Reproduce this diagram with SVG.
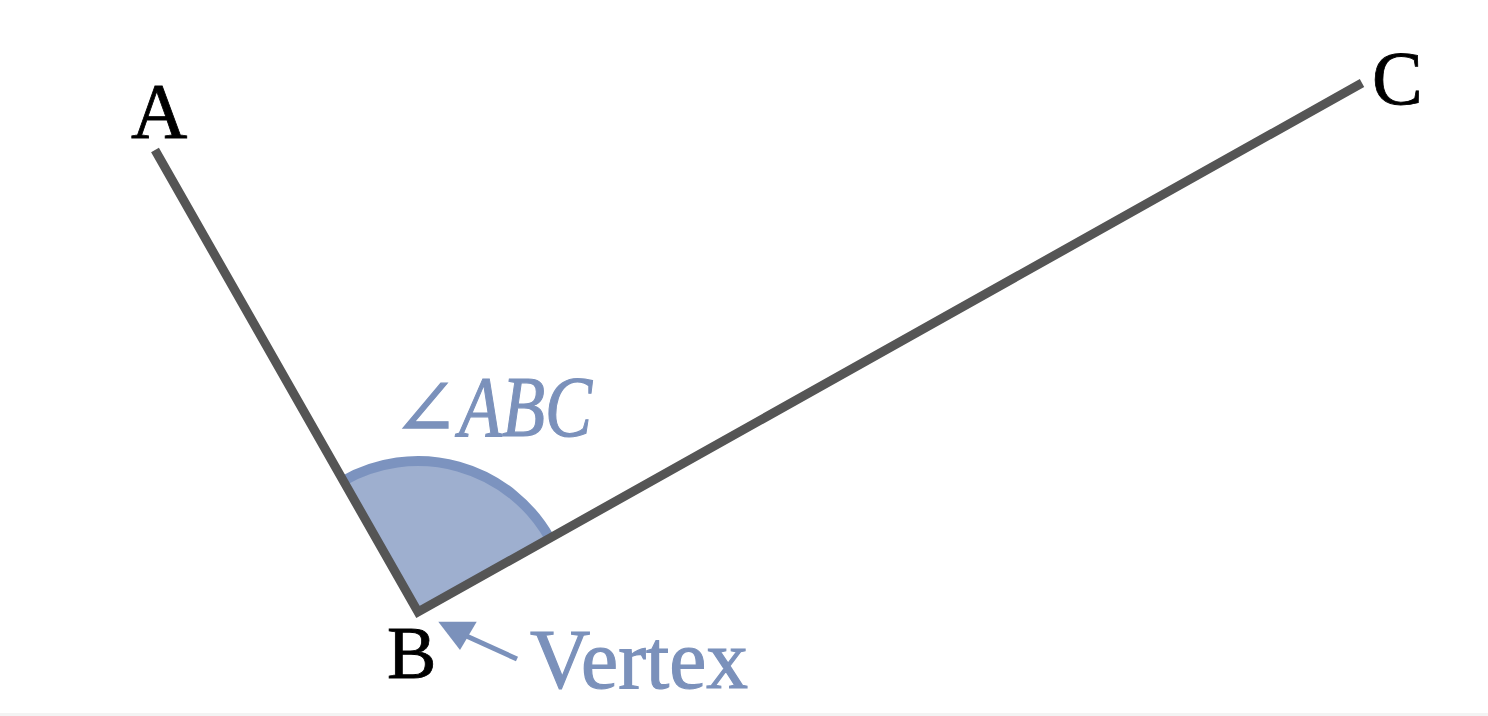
<svg xmlns="http://www.w3.org/2000/svg" width="1488" height="716" viewBox="0 0 1488 716">
<defs>
<style>
.ray{fill:none;stroke:#555555;stroke-width:9;stroke-linejoin:miter;stroke-linecap:butt}
.lbl{font-family:"Liberation Serif","DejaVu Serif",serif;fill:#000000;stroke:#000000;stroke-width:0.8}
.blue{font-family:"Liberation Serif","DejaVu Serif",serif;fill:#7b91bb;stroke:#7b91bb;stroke-width:1.2}
</style>
</defs>
<rect x="0" y="0" width="1488" height="716" fill="#ffffff"/>
<rect x="0" y="713" width="1488" height="3" fill="#f3f3f3"/>
<g id="angle">
<path d="M418,612 L343.3,480.8 A151,151 0 0 1 549.7,538.2 Z" fill="#9eafcf"/>
<path d="M343.3,480.8 A151,151 0 0 1 549.7,538.2" fill="none" stroke="#7c93bf" stroke-width="10"/>
</g>
<g id="connectors">
<polyline class="ray" points="155,150 418,612 1362,83"/>
<line x1="517" y1="659" x2="462" y2="634" stroke="#7b91bb" stroke-width="5"/>
<polygon points="438.3,621.7 476.7,621.7 460,650" fill="#7b91bb"/>
</g>
<g id="A"><text class="lbl" x="131" y="137" font-size="78">A</text></g>
<g id="B"><text class="lbl" x="387" y="678" font-size="74">B</text></g>
<g id="C"><text class="lbl" x="1372" y="104" font-size="76">C</text></g>
<g id="angle-label"><text class="blue" y="436"><tspan x="392" font-size="80">∠</tspan><tspan x="459" font-size="86" font-style="italic" textLength="133" lengthAdjust="spacingAndGlyphs">ABC</tspan></text></g>
<g id="vertex-label"><text class="blue" x="530" y="688" font-size="84" textLength="218" lengthAdjust="spacingAndGlyphs">Vertex</text></g>
</svg>
